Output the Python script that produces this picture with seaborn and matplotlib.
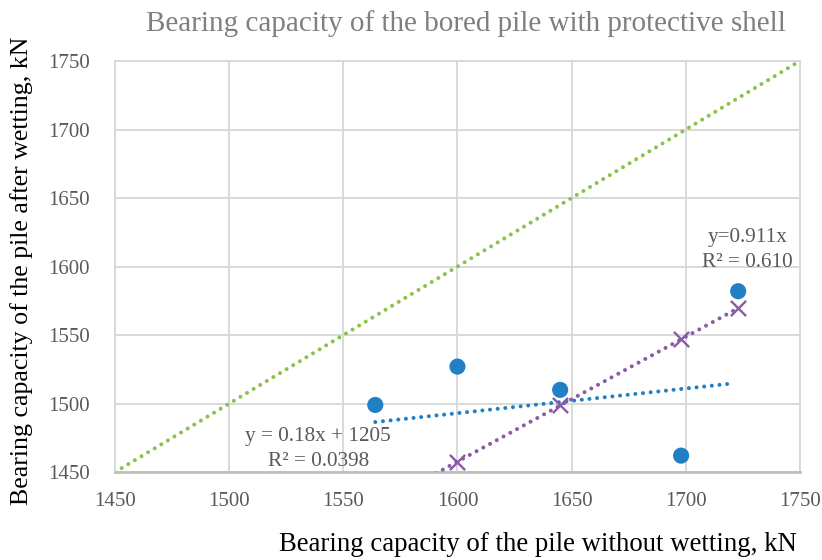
import numpy as np
import pandas as pd
import matplotlib
matplotlib.use("Agg")
import matplotlib.pyplot as plt
import seaborn as sns

# --------------------------------------------------
# Data
# --------------------------------------------------
without_wetting = [1564, 1600, 1645, 1698, 1723]
after_wetting = [1499, 1527, 1510, 1462, 1582]

# trend lines as printed on the chart
lin_slope, lin_icpt = 0.18, 1205
prop_slope = 0.911

axis_ticks = [1450, 1500, 1550, 1600, 1650, 1700, 1750]

TITLE = "Bearing capacity of the bored pile with protective shell"
XLABEL = "Bearing capacity of the pile without wetting, kN"
YLABEL = "Bearing capacity of the pile after wetting, kN"

BLUE = "#2180c5"
PURPLE = "#8a5ca8"
GREEN = "#8bc34a"
GREY = "#7f7f7f"
DOTS = (0, (0.01, 1.9))

sns.set_theme(style="white")
plt.rcParams["font.family"] = ["Liberation Serif", "DejaVu Serif"]

df = pd.DataFrame({"x": without_wetting, "y": after_wetting})
df["pred"] = prop_slope * df["x"]

fig = plt.figure(figsize=(8.22, 5.6), dpi=100)
ax = fig.add_axes([0.140, 0.157, 0.833, 0.734])

# y = x reference line
ax.plot(axis_ticks, axis_ticks, linestyle=DOTS, color=GREEN,
        linewidth=2.9, dash_capstyle="round", zorder=2)

# fitted lines
xs = np.array([min(without_wetting), 1720])
ax.plot(xs, lin_slope * xs + lin_icpt, linestyle=DOTS, color=BLUE,
        linewidth=2.9, dash_capstyle="round", zorder=3)
xs2 = np.array([min(without_wetting), max(without_wetting)])
ax.plot(xs2, prop_slope * xs2, linestyle=DOTS, color=PURPLE,
        linewidth=2.9, dash_capstyle="round", zorder=3)

sns.scatterplot(data=df, x="x", y="y", ax=ax, color=BLUE, s=135,
                edgecolor="none", zorder=4)
sns.scatterplot(data=df, x="x", y="pred", ax=ax, color=PURPLE, marker="x",
                s=120, linewidth=1.7, zorder=4)

ax.set_xlim(1450, 1750)
ax.set_ylim(1450, 1750)
ax.set_xticks(axis_ticks)
ax.set_yticks(axis_ticks)
ax.grid(True, color="#d9d9d9", linewidth=1.4)
ax.set_axisbelow(True)
for side in ["top", "right", "left"]:
    ax.spines[side].set_color("#d9d9d9")
    ax.spines[side].set_linewidth(1.4)
ax.spines["bottom"].set_color("#bfbfbf")
ax.spines["bottom"].set_linewidth(2)
ax.tick_params(axis="both", labelsize=15, labelcolor="#595959", length=0)
ax.tick_params(axis="x", pad=14)
ax.tick_params(axis="y", pad=18)

ax.set_xlabel("")
ax.set_ylabel("")
fig.text(0.970, 0.005, XLABEL, ha="right", va="bottom", fontsize=19.3, color="black")
fig.text(0.012, 0.516, YLABEL, ha="left", va="center", rotation=90,
         fontsize=18.6, color="black")
fig.text(0.567, 0.958, TITLE, ha="center", va="center", fontsize=21, color=GREY)

ax.text(1727, 1621, "y=0.911x", ha="center", va="center", fontsize=15.3, color="#595959")
ax.text(1727, 1603, "R² = 0.610", ha="center", va="center", fontsize=15.3, color="#595959")
ax.text(1539, 1476, "y = 0.18x + 1205", ha="center", va="center", fontsize=15.3, color="#595959")
ax.text(1539, 1458, "R² = 0.0398", ha="center", va="center", fontsize=15.3, color="#595959")

fig.savefig("out.png", dpi=100)
plt.close(fig)
print("[OK] saved out.png")
